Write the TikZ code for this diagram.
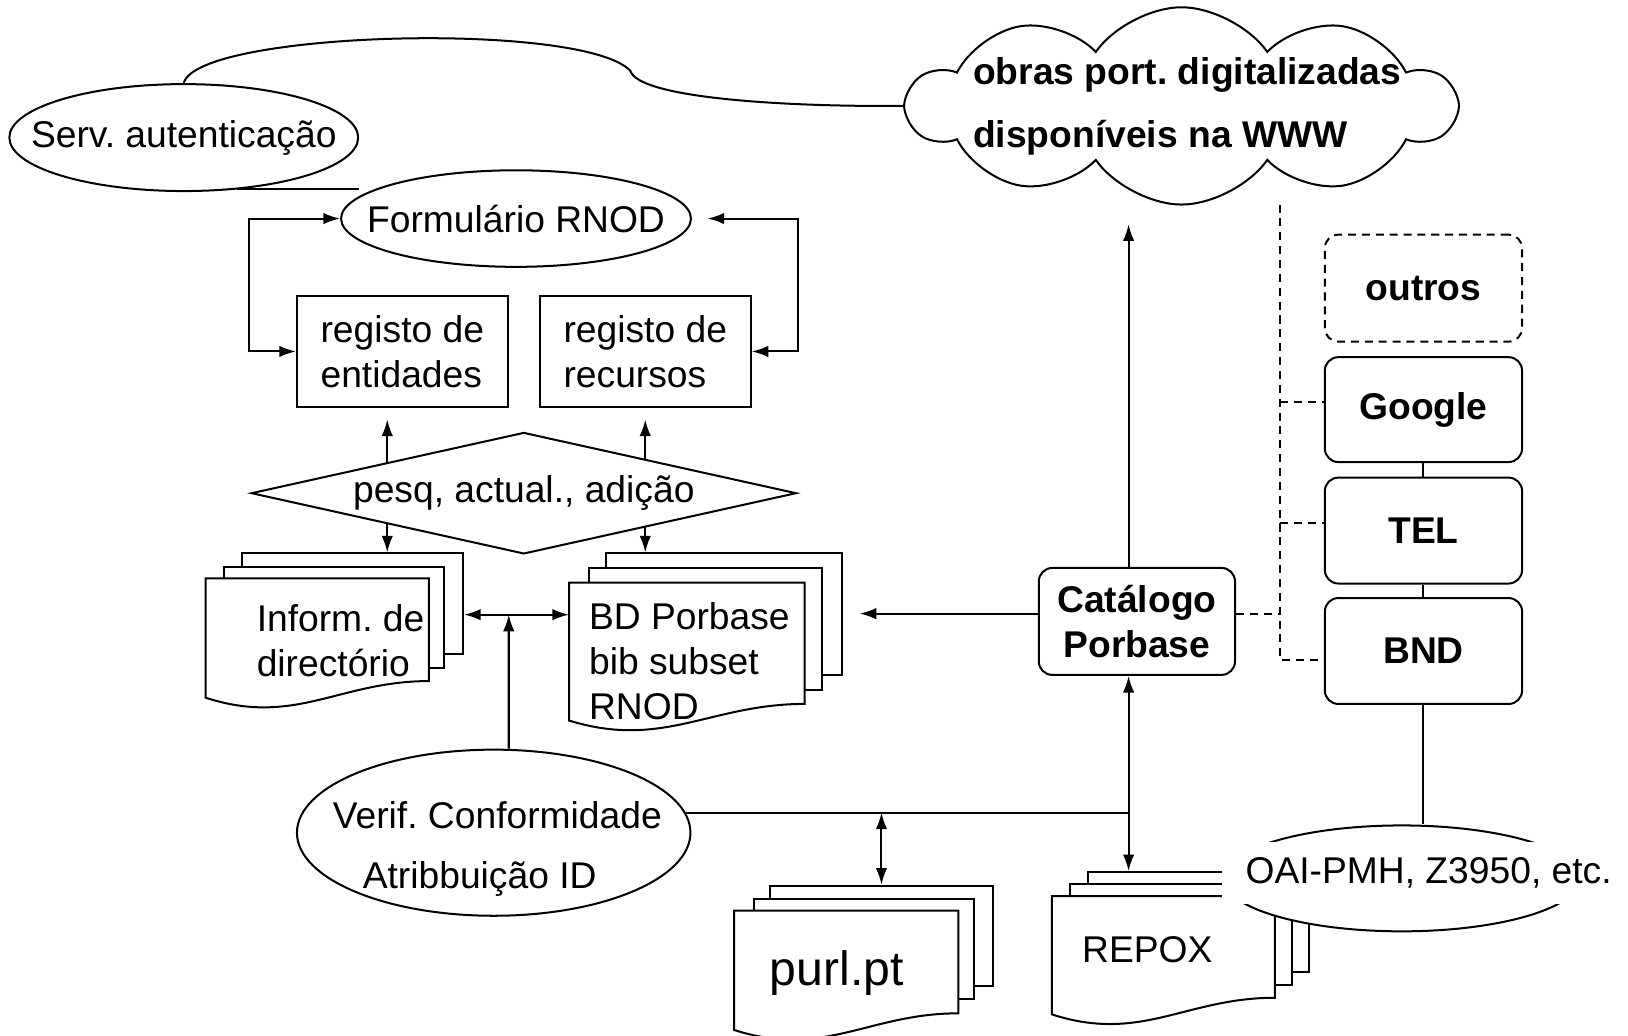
\documentclass[tikz,border=0pt]{standalone}
\usepackage{fontspec}
\setmainfont{Liberation Sans}
\usepackage{tikz}
\usetikzlibrary{shapes.geometric, shapes.symbols, arrows.meta, calc}
\frenchspacing

% page with a wavy lower edge, drawn on the frame of a node
\newcommand{\wavepage}[1]{%
  \draw[fill=white] (#1.north west) -- (#1.north east) -- (#1.south east)
    .. controls ($(#1.south east)!0.4!(#1.south west)$) and ($(#1.south west)!0.4!(#1.south east)+(0,44)$)
    .. ($(#1.south west)+(0,16)$) -- cycle;}

\begin{document}
\begin{tikzpicture}[x=0.1mm, y=-0.1mm, line width=0.55pt,
  font=\fontsize{10.2pt}{12.3pt}\selectfont,
  >={Latex[length=1.6mm,width=1.1mm]},
  regbox/.style={draw, inner sep=0pt, align=left},
  page/.style={draw, fill=white, inner sep=0pt},
  pageframe/.style={inner sep=0pt},
  roundbox/.style={draw, rounded corners=1.3mm, inner sep=0pt, align=center,
    font=\fontsize{10.2pt}{12.3pt}\selectfont\bfseries},
  oval/.style={draw, ellipse, inner sep=0pt},
  dashline/.style={dash pattern=on 2.2pt off 1.6pt}]
  \useasboundingbox (0,0) rectangle (1568,997);

  % Authentication and form
  \node[oval, minimum width=33.6mm, minimum height=10.3mm] (serv) at (177,132.5) {\makebox[0pt]{Serv. autenticação}};
  \node[oval, minimum width=33.7mm, minimum height=9.3mm] (form) at (497,210.5) {\makebox[0pt]{Formulário RNOD}};
  \draw (serv.-44) -- (serv.-44 -| form.172);

  % Cloud
  \node[draw, cloud, cloud puffs=10, cloud puff arc=110, cloud ignores aspect,
    minimum width=52.6mm, minimum height=19mm] (cloud) at (1138,102) {};
  \node[align=left, font=\fontsize{10.2pt}{12.3pt}\selectfont\bfseries] (www) at (1143.5,102.5)
    {obras port. digitalizadas\\[5pt]disponíveis na WWW};
  \draw (serv.north) .. controls (190,30) and (560,20) .. (607,68)
    .. controls (615,95) and (760,103) .. (cloud.west);

  % Registers
  \node[regbox, minimum width=20.3mm, minimum height=10.7mm] (ent) at (387.5,338.5) {registo de\\entidades};
  \node[regbox, minimum width=20.3mm, minimum height=10.7mm] (rec) at (621.5,338.5) {registo de\\recursos};
  \draw[<->] (form.west) -- ++(-88,0) |- (ent.west);
  \draw[<->, shorten <=1.5mm] (form.east) -- ++(102,0) |- (rec.east);

  % Directory stack
  \node[page, minimum width=21.3mm, minimum height=9.7mm] (dirB) at (339.5,581.5) {};
  \node[page, minimum width=21.2mm, minimum height=9.7mm] (dirM) at (322,594.5) {};
  \node[pageframe, minimum width=21.3mm, minimum height=9.7mm] (dirF) at (305.5,606.5) {};
  \wavepage{dirF}
  \node[align=left] (dir) at (328,617) {Inform. de\\directório};

  % Porbase stack
  \node[page, minimum width=22.7mm, minimum height=11.7mm] (bdB) at (697.5,591.5) {};
  \node[page, minimum width=22.5mm, minimum height=11.8mm] (bdM) at (679.5,606) {};
  \node[pageframe, minimum width=22.5mm, minimum height=11.5mm] (bdF) at (661.5,619.5) {};
  \wavepage{bdF}
  \node[align=left] (bd) at (664,636.5) {BD Porbase\\bib subset\\RNOD};

  % Search / update
  \coordinate (entS) at ([xshift=-1.45mm]ent.south);
  \draw[<->, shorten <=1.1mm] (entS) -- (entS |- dirB.north);
  \draw[<->, shorten <=1.1mm] (rec.south) -- (rec.south |- bdB.north);
  \node[draw, diamond, aspect=4.5, inner sep=0pt, fill=white,
    minimum width=52.5mm, minimum height=11.7mm] (pesq) at (504.5,475) {pesq, actual., adição};

  \coordinate (mid) at (490,592);
  \draw[<->] (mid -| dirB.east) -- (mid -| bdF.west);

  % Verification
  \node[oval, minimum width=37.9mm, minimum height=16mm] (verif) at (475.5,802) {};
  \node (verA) at (479,785) {Verif. Conformidade};
  \node (verB) at (462,847) {Atribbuição ID};
  \coordinate (verN) at ([xshift=1.45mm]verif.north);
  \draw[->] (verN) -- (mid);

  % Catalogue
  \node[roundbox, minimum width=18.9mm, minimum height=10.3mm] (cat) at (1095,598.5) {Catálogo\\Porbase};
  \coordinate (catW) at ([yshift=0.75mm]cat.west);
  \coordinate (catE) at ([yshift=0.75mm]cat.east);
  \coordinate (catN) at ([xshift=-0.8mm]cat.north);
  \coordinate (catS) at ([xshift=-0.8mm]cat.south);
  \draw[->, shorten >=1.6mm] (catW) -- (catW -| bdB.east);
  \draw[->, shorten >=1.8mm] (catN) -- (catN |- cloud.south);

  % purl.pt stack
  \node[page, minimum width=21.4mm, minimum height=9.7mm] (purlB) at (849,901.5) {};
  \node[page, minimum width=21.2mm, minimum height=9.6mm] (purlM) at (832,914) {};
  \node[pageframe, minimum width=21.4mm, minimum height=9.7mm] (purlF) at (815,926.5) {};
  \wavepage{purlF}
  \node[font=\fontsize{13.2pt}{15pt}\selectfont] (purl) at (806,937) {purl.pt};

  % REPOX stack
  \node[page, minimum width=21.3mm, minimum height=9.6mm] (repB) at (1154.5,888) {};
  \node[page, minimum width=21.3mm, minimum height=9.8mm] (repM) at (1137.5,900) {};
  \node[pageframe, minimum width=21.3mm, minimum height=9.6mm] (repF) at (1120.5,912) {};
  \wavepage{repF}
  \node (repox) at (1105,915) {REPOX};

  \draw (verif.6) -- (verif.6 -| catS);
  \draw[<->] (catS) -- (catS |- repB.north);
  \draw[<->] (purlB.north |- verif.6) -- (purlB.north);

  % Services
  \node[roundbox, dashline, minimum width=19mm, minimum height=10.3mm] (outros) at (1371,277.5) {outros};
  \node[roundbox, minimum width=19mm, minimum height=10.1mm] (goo) at (1371,394.5) {Google};
  \node[roundbox, minimum width=19mm, minimum height=10.2mm] (tel) at (1371,511) {TEL};
  \node[roundbox, minimum width=19mm, minimum height=10.2mm] (bnd) at (1371,627) {BND};
  \draw (goo) -- (tel);
  \draw (tel) -- (bnd);

  % Protocols
  \node[oval, fill=white, minimum width=34.4mm, minimum height=10.2mm] (oaiE) at (1350,846) {};
  \node[fill=white, inner xsep=2.3mm, inner ysep=1.5mm] (oai) at (1376,841) {OAI-PMH, Z3950, etc.};
  \draw (bnd) -- (bnd |- oaiE.north);

  % Dashed links
  \coordinate (bus) at (1233,197);
  \coordinate (gooW) at ([yshift=0.7mm]goo.west);
  \coordinate (telW) at ([yshift=0.7mm]tel.west);
  \coordinate (bndW) at ([yshift=-0.9mm]bnd.west);
  \draw[dashline] (bus) |- (bndW);
  \draw[dashline] (bus |- gooW) -- (gooW);
  \draw[dashline] (bus |- telW) -- (telW);
  \draw[dashline] (catE) -- (catE -| bus);
\end{tikzpicture}
\end{document}
